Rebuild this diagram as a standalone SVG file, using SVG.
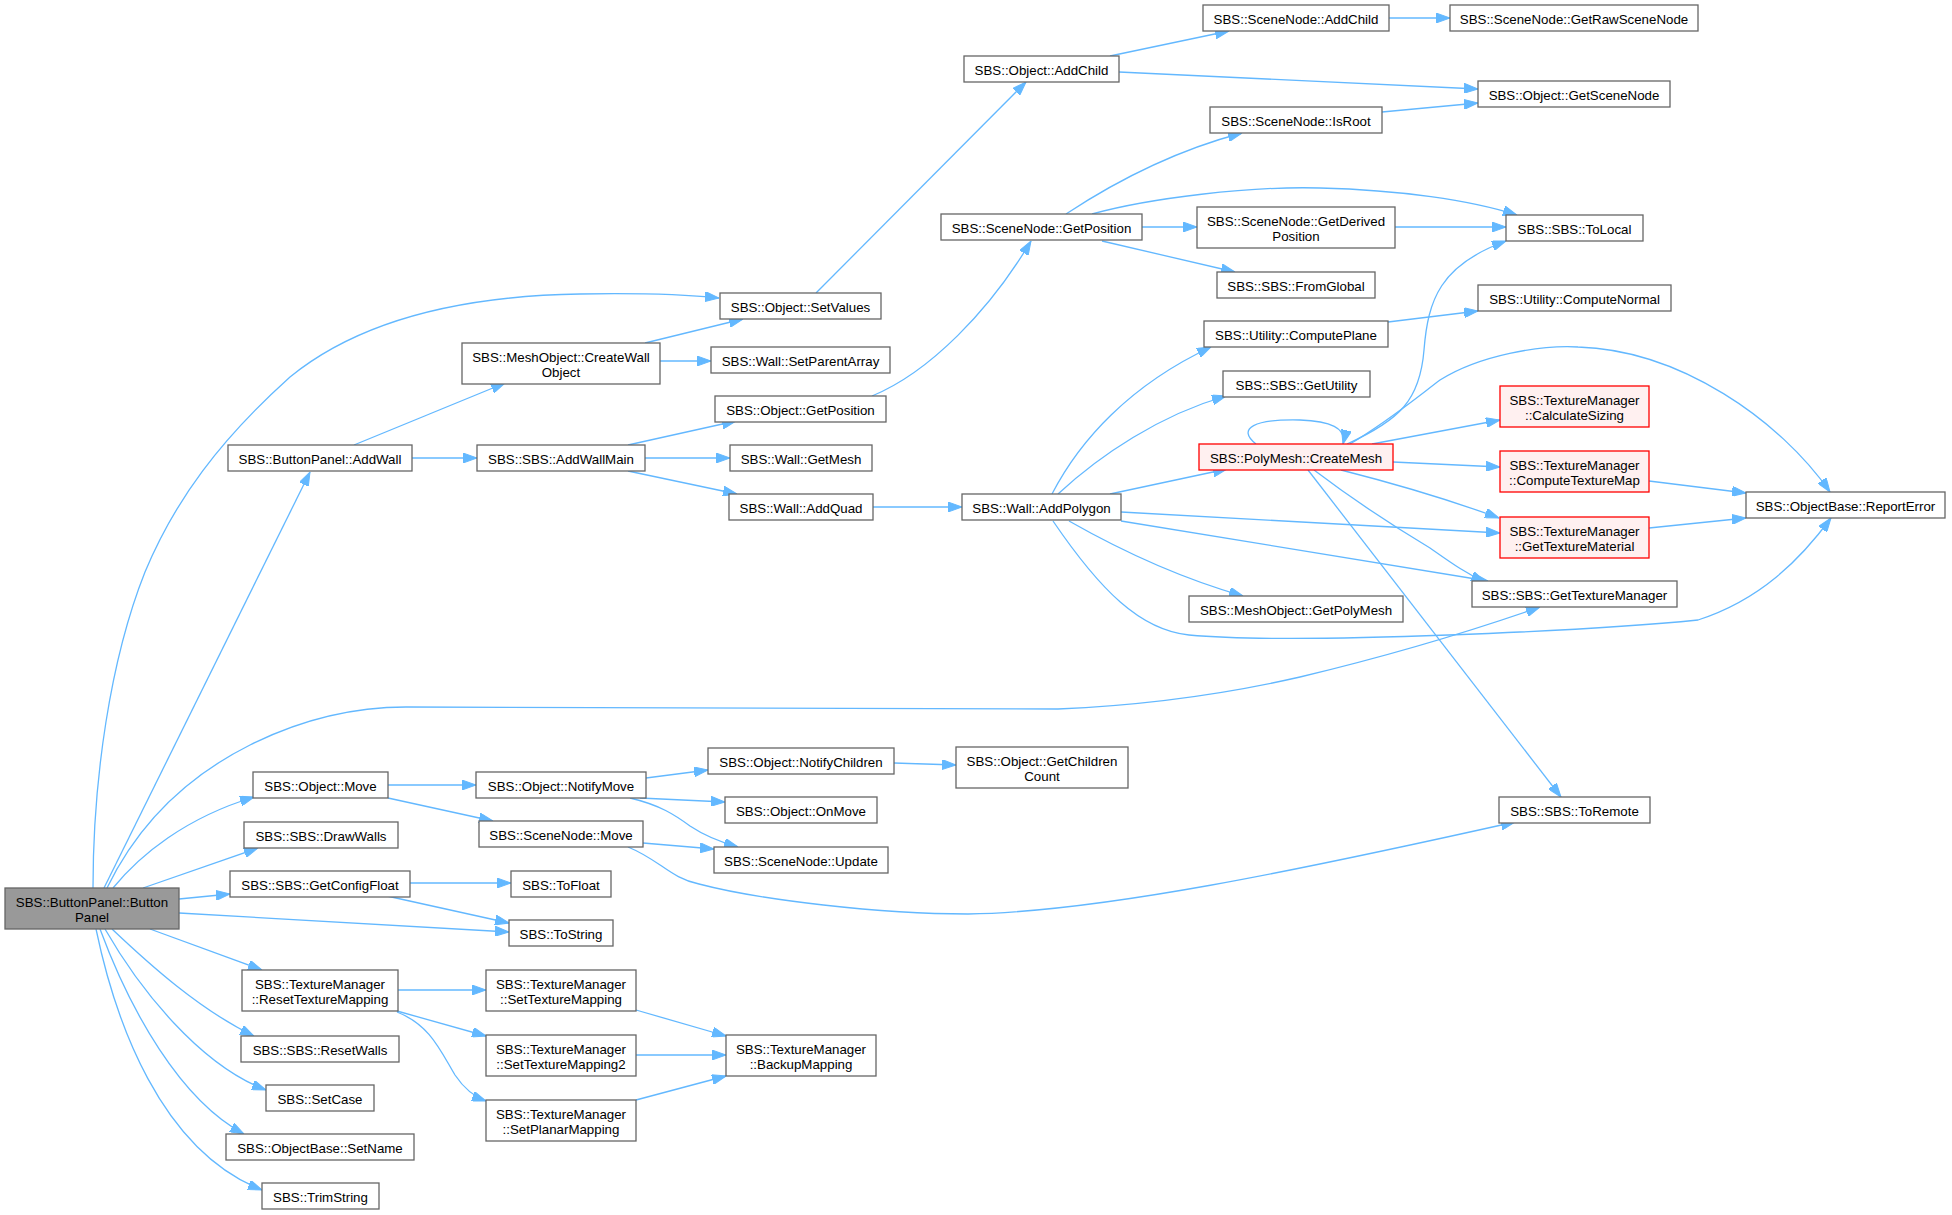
<svg xmlns="http://www.w3.org/2000/svg" width="1952" height="1215" viewBox="0 0 1952 1215">
<style>
.n rect{fill:#ffffff;stroke:#666666;stroke-width:1.3}
.n.root rect{fill:#999999;stroke:#666666}
.n.red rect{fill:#fff0f0;stroke:#ff0000}
.n text{font-family:"Liberation Sans",Arial,sans-serif;font-size:13.3px;fill:#000000;text-anchor:middle}
.e path{fill:none;stroke:#63b8ff;stroke-width:1.3;marker-end:url(#arr)}
</style>
<defs>
<marker id="arr" markerUnits="userSpaceOnUse" markerWidth="14" markerHeight="10" refX="14" refY="5" orient="auto">
<path d="M0,0 L14,5 L0,10 z" fill="#63b8ff" stroke="#63b8ff" stroke-width="1"/>
</marker>
</defs>
<rect x="0" y="0" width="1952" height="1215" fill="#ffffff"/>
<g id="edges" class="e">
<path d="M93,888 C93,780 110,660 145,572 C175,500 220,440 290,377 C360,320 460,296 580,294 C640,293 690,295 719,298"/>
<path d="M104,888 L310,472"/>
<path d="M107,888 C140,820 190,775 250,745 C300,720 350,707 406,707 L1058,709 C1150,705 1230,693 1300,677 C1400,653 1480,628 1540,607"/>
<path d="M113,888 C140,855 185,818 254,797"/>
<path d="M143,888 L258,848"/>
<path d="M179,899 L230,894"/>
<path d="M179,913 L509,932"/>
<path d="M150,929 L262,970"/>
<path d="M112,929 C150,965 200,1010 254,1036"/>
<path d="M105,929 C140,990 200,1065 266,1090"/>
<path d="M100,929 C130,1010 180,1100 244,1134"/>
<path d="M96,929 C115,1020 160,1150 262,1190"/>
<path d="M354,445 L505,383"/>
<path d="M412,458 L477,458"/>
<path d="M645,343 L743,319"/>
<path d="M660,361 L711,361"/>
<path d="M816,293 L1026,82"/>
<path d="M1110,56 L1229,31"/>
<path d="M1119,72 L1478,89"/>
<path d="M1389,18 L1450,18"/>
<path d="M1382,112 L1478,103"/>
<path d="M628,445 L736,421"/>
<path d="M645,458 L730,458"/>
<path d="M628,471 L737,494"/>
<path d="M872,396 C930,372 990,310 1031,241"/>
<path d="M1066,214 C1110,185 1170,152 1242,133"/>
<path d="M1092,214 C1150,198 1250,186 1320,188 C1400,190 1470,200 1517,215"/>
<path d="M1142,227 L1197,227"/>
<path d="M1102,241 L1235,272"/>
<path d="M1395,227 L1506,227"/>
<path d="M873,507 L962,507"/>
<path d="M1052,494 C1080,440 1130,385 1211,347"/>
<path d="M1058,494 C1100,455 1160,415 1226,396"/>
<path d="M1110,494 L1227,469"/>
<path d="M1121,512 L1500,533"/>
<path d="M1121,521 L1488,581"/>
<path d="M1069,521 C1120,550 1180,578 1243,596"/>
<path d="M1053,521 C1100,590 1140,630 1189,635 C1300,645 1600,630 1698,620 C1760,600 1800,560 1831,518"/>
<path d="M1256,444 C1236,428 1255,419 1300,420 C1330,421 1347,428 1343,444"/>
<path d="M1347,444 C1400,420 1420,400 1424,350 C1428,300 1440,265 1506,241"/>
<path d="M1350,444 C1390,420 1420,395 1440,380 C1480,355 1540,345 1578,347 C1680,350 1780,420 1830,492"/>
<path d="M1372,444 L1500,420"/>
<path d="M1393,462 L1500,467"/>
<path d="M1341,470 C1400,485 1450,500 1499,518"/>
<path d="M1314,470 C1360,505 1400,530 1430,548 C1450,562 1465,573 1485,582"/>
<path d="M1308,470 L1561,797"/>
<path d="M1649,481 L1746,493"/>
<path d="M1649,528 L1746,518"/>
<path d="M1388,322 L1478,311"/>
<path d="M388,785 L476,785"/>
<path d="M388,798 L493,821"/>
<path d="M646,778 L708,770"/>
<path d="M640,798 L725,802"/>
<path d="M630,798 C660,805 675,815 690,826 C705,836 720,842 738,847"/>
<path d="M894,763 L956,765"/>
<path d="M643,843 L714,849"/>
<path d="M628,847 C660,860 670,878 699,884 C760,900 880,914 968,914 C1100,912 1300,870 1515,822"/>
<path d="M410,883 L511,883"/>
<path d="M387,896 L509,923"/>
<path d="M398,990 L486,990"/>
<path d="M397,1011 L486,1036"/>
<path d="M397,1012 C430,1025 440,1050 455,1075 C465,1090 475,1097 486,1101"/>
<path d="M636,1010 L726,1036"/>
<path d="M636,1055 L726,1055"/>
<path d="M636,1100 L726,1076"/>
</g>
<g id="n_ButtonPanel" class="n root"><rect x="5" y="888" width="174" height="41"/><text x="92" y="906.5">SBS::ButtonPanel::Button</text><text x="92" y="921.5">Panel</text></g>
<g id="n_AddWall" class="n"><rect x="228" y="445" width="184" height="26"/><text x="320" y="463.5">SBS::ButtonPanel::AddWall</text></g>
<g id="n_CreateWallObject" class="n"><rect x="462" y="343" width="198" height="41"/><text x="561" y="361.5">SBS::MeshObject::CreateWall</text><text x="561" y="376.5">Object</text></g>
<g id="n_SetValues" class="n"><rect x="720" y="293" width="161" height="26"/><text x="800.5" y="311.5">SBS::Object::SetValues</text></g>
<g id="n_SetParentArray" class="n"><rect x="711" y="347" width="179" height="26"/><text x="800.5" y="365.5">SBS::Wall::SetParentArray</text></g>
<g id="n_ObjGetPosition" class="n"><rect x="715" y="396" width="171" height="26"/><text x="800.5" y="414.5">SBS::Object::GetPosition</text></g>
<g id="n_AddWallMain" class="n"><rect x="477" y="445" width="168" height="26"/><text x="561" y="463.5">SBS::SBS::AddWallMain</text></g>
<g id="n_GetMesh" class="n"><rect x="730" y="445" width="142" height="26"/><text x="801" y="463.5">SBS::Wall::GetMesh</text></g>
<g id="n_AddQuad" class="n"><rect x="729" y="494" width="144" height="26"/><text x="801" y="512.5">SBS::Wall::AddQuad</text></g>
<g id="n_AddPolygon" class="n"><rect x="962" y="494" width="159" height="26"/><text x="1041.5" y="512.5">SBS::Wall::AddPolygon</text></g>
<g id="n_ObjAddChild" class="n"><rect x="964" y="56" width="155" height="26"/><text x="1041.5" y="74.5">SBS::Object::AddChild</text></g>
<g id="n_SNAddChild" class="n"><rect x="1203" y="5" width="186" height="26"/><text x="1296" y="23.5">SBS::SceneNode::AddChild</text></g>
<g id="n_GetRawSceneNode" class="n"><rect x="1450" y="5" width="248" height="26"/><text x="1574" y="23.5">SBS::SceneNode::GetRawSceneNode</text></g>
<g id="n_GetSceneNode" class="n"><rect x="1478" y="81" width="192" height="26"/><text x="1574" y="99.5">SBS::Object::GetSceneNode</text></g>
<g id="n_IsRoot" class="n"><rect x="1210" y="107" width="172" height="26"/><text x="1296" y="125.5">SBS::SceneNode::IsRoot</text></g>
<g id="n_SNGetPosition" class="n"><rect x="941" y="214" width="201" height="26"/><text x="1041.5" y="232.5">SBS::SceneNode::GetPosition</text></g>
<g id="n_GetDerivedPosition" class="n"><rect x="1197" y="207" width="198" height="41"/><text x="1296" y="225.5">SBS::SceneNode::GetDerived</text><text x="1296" y="240.5">Position</text></g>
<g id="n_ToLocal" class="n"><rect x="1506" y="215" width="137" height="26"/><text x="1574.5" y="233.5">SBS::SBS::ToLocal</text></g>
<g id="n_FromGlobal" class="n"><rect x="1217" y="272" width="158" height="26"/><text x="1296" y="290.5">SBS::SBS::FromGlobal</text></g>
<g id="n_ComputePlane" class="n"><rect x="1204" y="321" width="184" height="26"/><text x="1296" y="339.5">SBS::Utility::ComputePlane</text></g>
<g id="n_ComputeNormal" class="n"><rect x="1478" y="285" width="193" height="26"/><text x="1574.5" y="303.5">SBS::Utility::ComputeNormal</text></g>
<g id="n_GetUtility" class="n"><rect x="1223" y="371" width="147" height="26"/><text x="1296.5" y="389.5">SBS::SBS::GetUtility</text></g>
<g id="n_CreateMesh" class="n red"><rect x="1199" y="444" width="194" height="26"/><text x="1296" y="462.5">SBS::PolyMesh::CreateMesh</text></g>
<g id="n_CalculateSizing" class="n red"><rect x="1500" y="386" width="149" height="41"/><text x="1574.5" y="404.5">SBS::TextureManager</text><text x="1574.5" y="419.5">::CalculateSizing</text></g>
<g id="n_ComputeTextureMap" class="n red"><rect x="1500" y="451" width="149" height="41"/><text x="1574.5" y="469.5">SBS::TextureManager</text><text x="1574.5" y="484.5">::ComputeTextureMap</text></g>
<g id="n_GetTextureMaterial" class="n red"><rect x="1500" y="517" width="149" height="41"/><text x="1574.5" y="535.5">SBS::TextureManager</text><text x="1574.5" y="550.5">::GetTextureMaterial</text></g>
<g id="n_ReportError" class="n"><rect x="1746" y="492" width="199" height="26"/><text x="1845.5" y="510.5">SBS::ObjectBase::ReportError</text></g>
<g id="n_GetTextureManager" class="n"><rect x="1472" y="581" width="205" height="26"/><text x="1574.5" y="599.5">SBS::SBS::GetTextureManager</text></g>
<g id="n_GetPolyMesh" class="n"><rect x="1189" y="596" width="214" height="26"/><text x="1296" y="614.5">SBS::MeshObject::GetPolyMesh</text></g>
<g id="n_ToRemote" class="n"><rect x="1499" y="797" width="151" height="26"/><text x="1574.5" y="815.5">SBS::SBS::ToRemote</text></g>
<g id="n_ObjMove" class="n"><rect x="253" y="772" width="135" height="26"/><text x="320.5" y="790.5">SBS::Object::Move</text></g>
<g id="n_NotifyMove" class="n"><rect x="476" y="772" width="170" height="26"/><text x="561" y="790.5">SBS::Object::NotifyMove</text></g>
<g id="n_NotifyChildren" class="n"><rect x="708" y="748" width="186" height="26"/><text x="801" y="766.5">SBS::Object::NotifyChildren</text></g>
<g id="n_GetChildrenCount" class="n"><rect x="956" y="747" width="172" height="41"/><text x="1042" y="765.5">SBS::Object::GetChildren</text><text x="1042" y="780.5">Count</text></g>
<g id="n_OnMove" class="n"><rect x="725" y="797" width="152" height="26"/><text x="801" y="815.5">SBS::Object::OnMove</text></g>
<g id="n_SNMove" class="n"><rect x="479" y="821" width="164" height="26"/><text x="561" y="839.5">SBS::SceneNode::Move</text></g>
<g id="n_SNUpdate" class="n"><rect x="714" y="847" width="174" height="26"/><text x="801" y="865.5">SBS::SceneNode::Update</text></g>
<g id="n_DrawWalls" class="n"><rect x="244" y="822" width="154" height="26"/><text x="321" y="840.5">SBS::SBS::DrawWalls</text></g>
<g id="n_GetConfigFloat" class="n"><rect x="230" y="871" width="180" height="26"/><text x="320" y="889.5">SBS::SBS::GetConfigFloat</text></g>
<g id="n_ToFloat" class="n"><rect x="511" y="871" width="100" height="26"/><text x="561" y="889.5">SBS::ToFloat</text></g>
<g id="n_ToString" class="n"><rect x="509" y="920" width="104" height="26"/><text x="561" y="938.5">SBS::ToString</text></g>
<g id="n_ResetTextureMapping" class="n"><rect x="242" y="970" width="156" height="41"/><text x="320" y="988.5">SBS::TextureManager</text><text x="320" y="1003.5">::ResetTextureMapping</text></g>
<g id="n_SetTextureMapping" class="n"><rect x="486" y="970" width="150" height="41"/><text x="561" y="988.5">SBS::TextureManager</text><text x="561" y="1003.5">::SetTextureMapping</text></g>
<g id="n_SetTextureMapping2" class="n"><rect x="486" y="1035" width="150" height="41"/><text x="561" y="1053.5">SBS::TextureManager</text><text x="561" y="1068.5">::SetTextureMapping2</text></g>
<g id="n_SetPlanarMapping" class="n"><rect x="486" y="1100" width="150" height="41"/><text x="561" y="1118.5">SBS::TextureManager</text><text x="561" y="1133.5">::SetPlanarMapping</text></g>
<g id="n_BackupMapping" class="n"><rect x="726" y="1035" width="150" height="41"/><text x="801" y="1053.5">SBS::TextureManager</text><text x="801" y="1068.5">::BackupMapping</text></g>
<g id="n_ResetWalls" class="n"><rect x="241" y="1036" width="158" height="26"/><text x="320" y="1054.5">SBS::SBS::ResetWalls</text></g>
<g id="n_SetCase" class="n"><rect x="266" y="1085" width="108" height="26"/><text x="320" y="1103.5">SBS::SetCase</text></g>
<g id="n_SetName" class="n"><rect x="226" y="1134" width="188" height="26"/><text x="320" y="1152.5">SBS::ObjectBase::SetName</text></g>
<g id="n_TrimString" class="n"><rect x="262" y="1183" width="117" height="26"/><text x="320.5" y="1201.5">SBS::TrimString</text></g>
</svg>
